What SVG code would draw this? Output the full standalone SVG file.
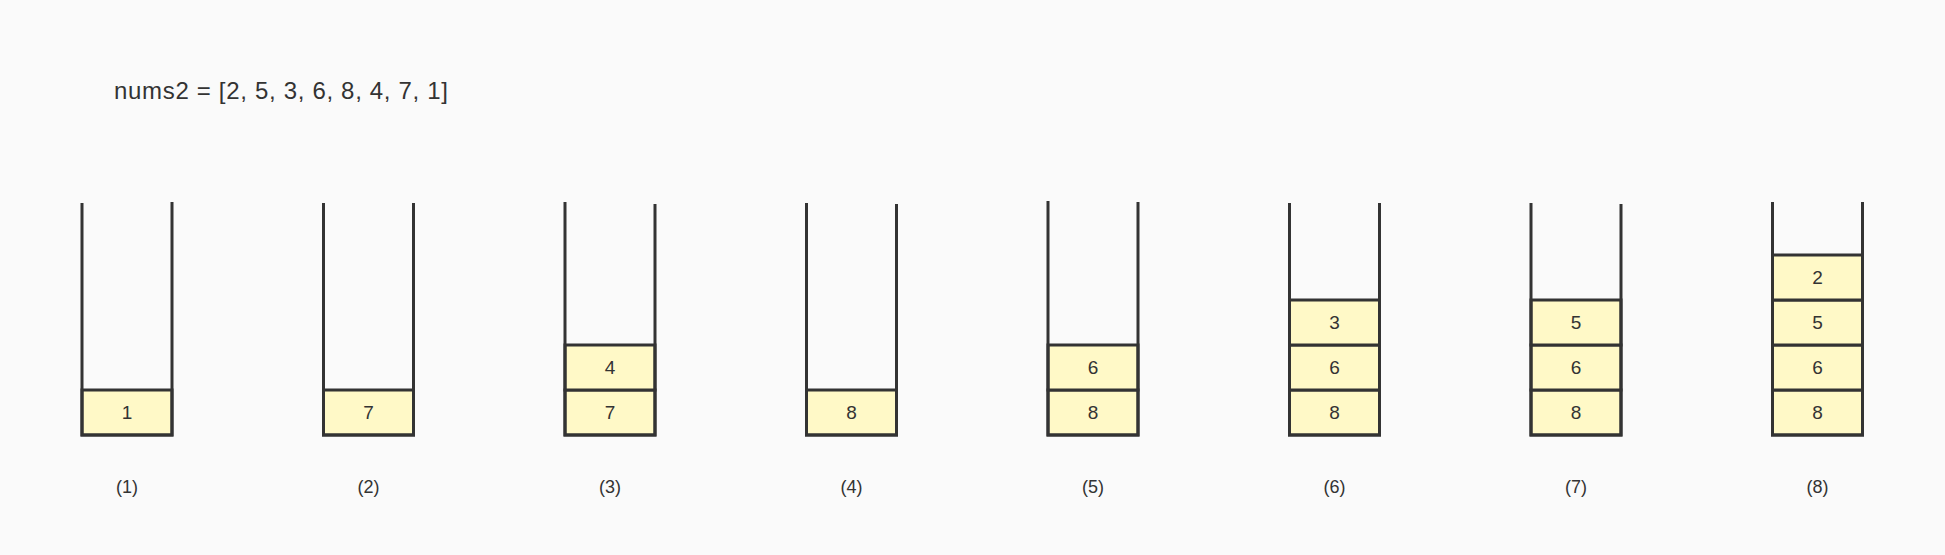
<svg xmlns="http://www.w3.org/2000/svg" width="1945" height="555" viewBox="0 0 1945 555">
<style>
.wall{fill:none;stroke:#333;stroke-width:3;stroke-linejoin:miter}
.box{fill:#FFF9C7;stroke:#333;stroke-width:3}
.num{font-family:"Liberation Sans",Arial,sans-serif;font-size:19px;fill:#333;text-anchor:middle}
.cap{font-family:"Liberation Sans",Arial,sans-serif;font-size:18px;fill:#333;text-anchor:middle}
.title{font-family:"Liberation Sans",Arial,sans-serif;font-size:24px;fill:#333}
</style>
<rect width="1945" height="555" fill="#FAFAFA"/>
<text class="title" x="114" y="99" textLength="334">nums2 = [2, 5, 3, 6, 8, 4, 7, 1]</text>

<g id="stack1">
<rect class="box" x="82" y="390" width="90" height="45"/><text class="num" x="127" y="419">1</text>
<path class="wall" d="M82,203 V435 H172 V202"/>
<text class="cap" x="127" y="493">(1)</text>
</g>
<g id="stack2">
<rect class="box" x="323.5" y="390" width="90" height="45"/><text class="num" x="368.5" y="419">7</text>
<path class="wall" d="M323.5,203 V435 H413.5 V203"/>
<text class="cap" x="368.5" y="493">(2)</text>
</g>
<g id="stack3">
<rect class="box" x="565" y="390" width="90" height="45"/><text class="num" x="610" y="419">7</text>
<rect class="box" x="565" y="345" width="90" height="45"/><text class="num" x="610" y="374">4</text>
<path class="wall" d="M565,202 V435 H655 V204"/>
<text class="cap" x="610" y="493">(3)</text>
</g>
<g id="stack4">
<rect class="box" x="806.5" y="390" width="90" height="45"/><text class="num" x="851.5" y="419">8</text>
<path class="wall" d="M806.5,203 V435 H896.5 V204"/>
<text class="cap" x="851.5" y="493">(4)</text>
</g>
<g id="stack5">
<rect class="box" x="1048" y="390" width="90" height="45"/><text class="num" x="1093" y="419">8</text>
<rect class="box" x="1048" y="345" width="90" height="45"/><text class="num" x="1093" y="374">6</text>
<path class="wall" d="M1048,201 V435 H1138 V202"/>
<text class="cap" x="1093" y="493">(5)</text>
</g>
<g id="stack6">
<rect class="box" x="1289.5" y="390" width="90" height="45"/><text class="num" x="1334.5" y="419">8</text>
<rect class="box" x="1289.5" y="345" width="90" height="45"/><text class="num" x="1334.5" y="374">6</text>
<rect class="box" x="1289.5" y="300" width="90" height="45"/><text class="num" x="1334.5" y="329">3</text>
<path class="wall" d="M1289.5,203 V435 H1379.5 V203"/>
<text class="cap" x="1334.5" y="493">(6)</text>
</g>
<g id="stack7">
<rect class="box" x="1531" y="390" width="90" height="45"/><text class="num" x="1576" y="419">8</text>
<rect class="box" x="1531" y="345" width="90" height="45"/><text class="num" x="1576" y="374">6</text>
<rect class="box" x="1531" y="300" width="90" height="45"/><text class="num" x="1576" y="329">5</text>
<path class="wall" d="M1531,203 V435 H1621 V204"/>
<text class="cap" x="1576" y="493">(7)</text>
</g>
<g id="stack8">
<rect class="box" x="1772.5" y="390" width="90" height="45"/><text class="num" x="1817.5" y="419">8</text>
<rect class="box" x="1772.5" y="345" width="90" height="45"/><text class="num" x="1817.5" y="374">6</text>
<rect class="box" x="1772.5" y="300" width="90" height="45"/><text class="num" x="1817.5" y="329">5</text>
<rect class="box" x="1772.5" y="255" width="90" height="45"/><text class="num" x="1817.5" y="284">2</text>
<path class="wall" d="M1772.5,202 V435 H1862.5 V202"/>
<text class="cap" x="1817.5" y="493">(8)</text>
</g>
</svg>
